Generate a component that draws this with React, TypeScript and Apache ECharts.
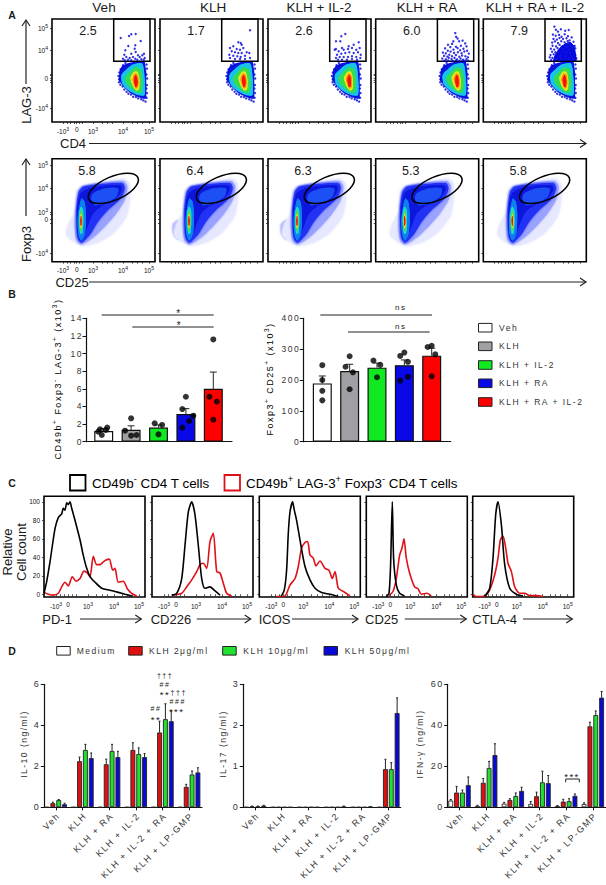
import React, { useEffect, useRef } from "react";
import * as echarts from "echarts";

const TRACK = 1.5;
const PLAIN = "Arial, 'Liberation Sans'";
const WIDE = "Helvetica, 'Liberation Sans'";

// ---------- A: flow cytometry ----------
const conditionsA = ["Veh", "KLH", "KLH + IL-2", "KLH + RA", "KLH + RA + IL-2"];
const lagPercent = ["2.5", "1.7", "2.6", "6.0", "7.9"];
const foxpPercent = ["5.8", "6.4", "6.3", "5.3", "5.8"];
const lagGate = [61.7, 60.7, 98, 103];
const foxpGate = [61.3, 73.3, 26.9, 11.7, 0.41];
const flowXTicks = [11, 15, 18, 22, 24.7, 27, 30, 41, 50, 55, 60, 71, 80, 85, 90, 97];
const flowXLabels = [11, 24.7, 41, 71, 97];
const flowXText = ["-10|3", "0", "10|3", "10|4", "10|5"];
const lagYTicks = [14, 40, 41.5, 44, 46.5, 48, 72, 94];
const lagYLabels = [14, 44, 72, 94];
const lagYText = ["-10|4", "0", "10|4", "10|5"];
const foxpYTicks = [8.5, 38, 42.5, 47, 49.5, 73.5, 96];
const foxpYLabels = [8.5, 42.5, 49.5, 73.5, 96];
const foxpYText = ["-10|4", "0", "10|3", "10|4", "10|5"];

const lagContourColors = ["#0a14e0", "#18c4e8", "#34dc50", "#e8e620", "#ff8a10", "#f01808"];
const lagContours = [
  [[67.7, 51.7], [70, 56], [74.3, 58.3], [84, 60.7], [92.7, 60.7], [94.3, 50], [94.3, 38], [94.3, 23.3], [90, 23.5], [86, 25], [77.7, 29.3], [71, 36], [66.7, 41.7]],
  [[69.5, 47], [74, 52], [80, 57], [90, 58.5], [92.5, 45], [92.5, 27], [86, 27], [77, 31.5], [70.5, 38]],
  [[73, 44], [78, 50], [83, 54.5], [88.5, 53], [90.5, 42], [89.5, 30], [85, 29.5], [79, 34], [75, 38]],
  [[78.5, 44], [82, 50], [85.5, 50], [87.5, 42], [87, 33], [84.5, 31.5], [81, 36]],
  [[80.5, 43], [83, 48.5], [85.5, 47], [86.5, 41], [86, 35], [84, 33.5], [82, 37.5]],
  [[82, 42.5], [83.5, 47], [85, 44.5], [85.5, 39], [84.8, 35.5], [83.5, 35], [82.5, 38.5]],
];
const lagShift = [0, 0, -2.5, -2.5, -2.5];
const lagFringe = [[66.4, 46], [67.2, 42.8], [67.3, 49.5], [67, 39.8], [68.4, 37.2], [70.6, 35.5], [72.3, 32.5], [74.6, 30.2], [76.4, 28.3], [79, 27.4], [81.2, 25.2], [84, 25], [86.2, 23.6], [89.2, 22.8], [91.4, 21.6], [93.6, 20.4], [94.6, 24.2], [95, 29], [94.4, 33.5], [94.9, 37], [95.2, 43.5], [94.5, 47.5], [95, 53.4], [94.6, 57.5], [68.6, 52.6], [71, 56.8], [73.4, 59]];
const lagCloudLast = [[70, 61], [72, 68], [78, 76], [86, 80], [91, 76], [93, 61]];

const foxpContourColors = ["#e6e8ff", "#9aa2ff", "#2030f4", "#0c14dc", "#1a50f4", "#1080f0", "#20d8d0", "#50e040", "#f0e020", "#f01808"];
const foxpContours = [
  [[24.3, 70], [29.3, 75], [71, 83.3], [77.7, 78.3], [77.7, 60], [74.3, 45], [61, 28.3], [46, 19.3], [31, 16], [22.7, 19.3], [14.3, 26.7], [16, 36.7], [22.7, 50]],
  [[26, 70], [31, 76], [71, 80.7], [75.3, 75], [72.7, 61.7], [64.3, 48.3], [52.7, 35], [41, 24], [29.3, 17.3], [24.3, 21.7], [22.7, 40]],
  [[26.7, 69.3], [32, 75.3], [70, 78.7], [72.7, 73.3], [68.7, 63.3], [56, 51.7], [46, 40], [37.7, 26.7], [29.3, 19], [25.3, 25], [24.3, 50]],
  [[28.7, 68.3], [39.3, 74], [67.7, 76.7], [70, 72.7], [64.3, 63.3], [51, 56.7], [41, 48.3], [34.3, 31.7], [29.3, 20.7], [26, 26.7], [25.3, 50]],
  [[41, 68.3], [52.7, 73.3], [66, 73.3], [64.3, 65], [52.7, 58.3], [42.7, 56.7], [39.3, 63.3]],
  [[29.3, 63], [32.5, 60], [34, 46.7], [33, 28.3], [29.3, 21], [26.5, 26.7], [25.7, 43.3]],
  [[29, 55], [31, 51.7], [31.3, 40], [30.3, 28.3], [28.3, 28.3], [27, 40], [27.3, 50]],
  [[29, 51.7], [30.3, 46.7], [30.3, 35], [29.3, 30.7], [28.3, 30.7], [27.7, 38.3], [28, 47.3]],
  [[29, 48.3], [30, 43.3], [29.7, 35], [28.7, 34], [28, 40]],
  [[29, 46], [29.7, 41.7], [29.3, 36], [28.7, 36], [28.3, 41.7]],
];
const foxpSideBlob = [[13, 38], [19, 42], [23, 40], [24, 24], [18, 22], [13, 28]];

const gateDots1 = [[68.7, 84], [77, 86], [79.3, 87.7], [83.7, 88], [88.7, 81], [83.3, 76.7], [76.3, 76], [73.3, 71.7], [82.7, 73.3], [72.3, 67.3], [79.3, 68.3], [83.7, 70], [86, 66.7], [71, 63.3], [74.3, 65], [77.7, 64], [81, 65], [83.3, 63.3], [87.7, 65], [90.3, 66.7], [92, 68.3], [92.7, 64], [89.3, 62.7], [72.7, 61.7], [76, 62.3], [79.3, 61.7], [85.3, 62.3], [91.7, 62.3]];
const gateDots2 = [[90, 91.7], [78.3, 79.7], [80.7, 79], [81.7, 77.3], [70, 74], [73.3, 75.7], [76.7, 73], [80, 72.3], [83.3, 74], [71.7, 70.7], [75, 69.7], [78.3, 69], [81.7, 69], [86.7, 69.7], [69.3, 67.3], [73.3, 66.3], [77.3, 65.7], [80.7, 65], [85, 66.3], [89.3, 69], [70, 64], [75, 63], [80, 63], [85, 63], [90, 64]];
const gateDots3 = [[77.3, 88], [73.3, 85.7], [68, 80.7], [72.3, 80.7], [68, 73], [74, 74], [80.7, 75.7], [85.7, 77.3], [90.7, 79.7], [66.7, 72.3], [70.7, 70.7], [75.7, 72.3], [80, 73], [84, 74], [88.3, 72.3], [91.7, 74], [69, 67.3], [73.3, 68.3], [77.3, 69], [81.3, 69.7], [85.7, 69], [90, 69.7], [92.7, 67.3], [68, 64], [71.7, 65], [75.7, 65], [80, 65], [84, 65.7], [88.3, 65], [92.3, 64], [70, 62.3], [74, 62.3], [79, 62.3], [84, 63], [89, 62.3]];
const gateDots4 = [[79.6, 88.9], [80.5, 85.1], [81.9, 83.4], [77.6, 80.6], [72.3, 77.2], [76.4, 78.1], [83.4, 80.7], [86.9, 81.4], [89.5, 78.6], [85.2, 76.3], [80.3, 75.2], [74.6, 74.9], [69.4, 73.6], [72.1, 71.3], [77.8, 72.4], [81.9, 73.9], [84.4, 71.7], [87.7, 73.2], [90.8, 75.6], [67.2, 69.4], [70.1, 68.6], [74.9, 70.4], [78.4, 69.1], [82.2, 69.8], [85.9, 68.7], [88.6, 70.5], [91.4, 71.2], [93.1, 68.4], [68.4, 66.1], [71.7, 65.4], [73.6, 67.2], [76.3, 65.8], [80.2, 66.9], [83.6, 65.2], [86.4, 66.4], [89.7, 65.7], [92.2, 64.8], [66.6, 63.4], [70.3, 62.8], [73.1, 64.2], [75.8, 62.9], [78.8, 64.1], [81.4, 62.6], [84.9, 63.4], [87.6, 62.3], [90.8, 62.9], [68.6, 61.2], [72.4, 61.4], [76.9, 61.1], [80.2, 61.5], [83.7, 61], [86.8, 61.3], [89.6, 61], [92.6, 61.4]];
const gateDots5 = [[71.1, 95.4], [72.6, 92.2], [74.7, 90.4], [77.6, 92.8], [81.9, 91.2], [85.4, 92], [69.6, 87.4], [72.4, 86.2], [75.8, 87.1], [78.3, 85.2], [81.4, 87.7], [84.6, 85.9], [70.2, 83.1], [73.6, 82.4], [76.2, 84], [79.7, 83], [83.2, 83.8], [86.3, 81.6], [88.4, 84.6], [68.9, 79.4], [71.6, 80.6], [74.7, 78.9], [77.9, 80.7], [81.3, 79.6], [84.4, 80.9], [87.2, 78.8], [90.2, 80.2], [69.3, 76.2], [72.8, 75.6], [76.3, 77.1], [79.4, 75.4], [82.6, 77.6], [85.6, 75.9], [88.4, 77.3], [91.3, 76.1], [67.6, 73.3], [70.9, 72.4], [74.2, 73.9], [77.4, 72.1], [80.6, 74.2], [83.4, 72.6], [86.7, 74.4], [89.2, 72.3], [92, 73.6], [68.8, 70.2], [72.1, 69.7], [75.4, 71], [78.6, 69.3], [81.2, 70.9], [84.8, 69.6], [87.4, 71.1], [90.6, 69.8], [67.2, 67], [70.4, 67.8], [73.9, 66.6], [76.2, 68.1], [79.9, 66.8], [82.4, 68], [85.3, 66.4], [88.9, 67.6], [92.1, 66.9], [66.4, 64.6], [69.2, 64.1], [72.3, 65.2], [75.1, 63.8], [78.9, 64.9], [81.3, 63.7], [84.2, 65.1], [87.8, 63.9], [90.9, 65], [93, 63.6], [67.9, 62], [71.6, 61.6], [75.8, 62.4], [79.4, 61.5], [83.6, 62.3], [87.4, 61.6], [91.6, 62.2]];
const gateDots = [gateDots1, gateDots2, gateDots3, gateDots4, gateDots5];

// ---------- B: bars with dots ----------
const groupsB = ["Veh", "KLH", "KLH + IL-2", "KLH + RA", "KLH + RA + IL-2"];
const colorsB = ["#ffffff", "#a0a0a4", "#10e820", "#0808e8", "#ff0000"];
const lagMeans = [1.2, 1.35, 1.6, 3.15, 6.0];
const lagHigh = [1.5, 1.8, 1.9, 3.75, 7.9];
const lagPoints = [[-0.135, 1.4], [-0.07, 0.76], [0.13, 1.6], [0.08, 1.33], [-0.2, 1.14], [1, 2.65], [0.78, 1.25], [1, 0.68], [1.2, 0.76], [1.86, 2.08], [2.13, 1.9], [2, 0.83], [3, 5.1], [2.87, 3.7], [3.27, 2.95], [3.12, 2.35], [2.87, 1.6], [4, 11.6], [3.86, 5.1], [4.13, 4.55], [4, 2.5]];
const foxpMeans = [189, 229, 240, 248, 279];
const foxpHigh = [213, 251, 255, 265, 303];
const foxpPoints = [[0, 248], [0, 200], [0, 165], [0, 134], [1, 277], [0.85, 243], [1.12, 225], [1, 170], [1.87, 263], [2.12, 249], [2, 209], [3, 289], [2.85, 278], [3.13, 259], [3.13, 210], [2.85, 198], [4, 311], [3.85, 307], [4.13, 283], [4, 212]];

// ---------- C: histograms ----------
const histXLabels = [12, 24, 44, 70, 95];
const histXText = ["-10|3", "0", "10|3", "10|4", "10|5"];
const histXTicks = [12, 16, 20, 24, 28, 32, 44, 52, 58, 63, 70, 78, 83, 88, 95];
const histYTicks = [0, 20, 40, 60, 80, 100];
const histNames = ["PD-1", "CD226", "ICOS", "CD25", "CTLA-4"];
const pd1Black = [[0, 1], [2.7, 14], [6, 35], [11, 71], [14.3, 83], [17.7, 87], [19.3, 93], [21, 91], [22.7, 99], [24.3, 97], [26, 100], [27.7, 93], [31, 80], [36, 59], [39.3, 42], [42.7, 28], [46, 19], [51, 13], [57.7, 6.5], [66, 4.3], [74.3, 2], [81, 0], [88, -2]];
const pd1Red = [[0, 2], [4.3, 0], [9.3, -1], [14.3, 1], [17.7, 8], [21, 13], [24.3, 9], [28.3, 19], [32, 14], [36, 17], [40, 25], [43.3, 23], [46, 19], [49.3, 41], [52.7, 32], [56, 32], [59.3, 35], [62, 37], [65.3, 38], [68.7, 26], [71, 28], [74.3, 13], [79.3, 14], [83.3, 6], [87.7, 1], [92.7, -2]];
const cd226Black = [[19.7, -1], [24.7, 1], [29.7, 17], [33, 53], [36.3, 89], [39.7, 100], [43, 86], [46.3, 53], [49.7, 17], [53, 6.5], [58, 8], [63, 3.6], [68, -1]];
const cd226Red = [[21, -1], [29.7, 1], [34.7, 8], [39.7, 15.5], [44.7, 24.5], [48, 32], [51.3, 33.5], [54.7, 28], [58, 57], [61.3, 66], [64.7, 24.5], [68, 23], [71.3, 12], [74.7, 1], [79.7, -2]];
const icosBlack = [[21.7, -2.5], [25, 4.7], [27.3, 26], [29, 66], [30.7, 89], [33.3, 100], [35, 91], [37.3, 80], [40.7, 58.6], [45.7, 30], [50.7, 15.5], [55.7, 6.5], [62.3, 1.8], [70.7, 0], [79, -2.5]];
const icosRed = [[17.3, -2.5], [25.7, -1.8], [30.7, 10], [35.7, 17], [39, 30], [42.3, 50], [45.7, 56], [48.3, 57], [50.7, 42.5], [54, 39], [56.7, 30.6], [60.7, 36], [65.7, 28], [69.7, 26], [73, 17], [75.7, 24.5], [79, 6.5], [84, 3], [90.7, -1.8]];
const cd25Black = [[20, -2.5], [22.7, 1], [24.3, 32], [26, 100], [27.3, 39], [30, 10], [33.3, 1], [38.3, -1.8]];
const cd25Red = [[22.7, -1.5], [26.7, 3], [30, 17], [33.3, 42], [35.7, 50], [37.7, 60], [40, 39], [43.3, 23], [48.3, 8], [51.7, 6], [55, 0], [60.7, 1], [65, -1.8]];
const ctlaBlack = [[12, -2.5], [17, 6.5], [20.3, 39], [23, 86], [25.3, 100], [28.7, 75], [32, 32], [37, 6.5], [43.7, 0], [50.3, -1.8]];
const ctlaRed = [[0.3, 0], [3.7, -2.5], [12, -1.8], [17, 4.7], [22, 21], [25.3, 39], [27.7, 59], [30.3, 63], [33, 50], [35.3, 33.5], [38.7, 24.5], [42, 8], [47, 1], [52, 1], [57, -1.5], [63.7, -1.5], [70.3, -2.5]];
const histBlack = [pd1Black, cd226Black, icosBlack, cd25Black, ctlaBlack];
const histRed = [pd1Red, cd226Red, icosRed, cd25Red, ctlaRed];

// ---------- D: cytokines ----------
const conditionsD = ["Veh", "KLH", "KLH + RA", "KLH + IL-2", "KLH + IL-2 + RA", "KLH + LP-GMP"];
const doseNames = ["Medium", "KLH 2μg/ml", "KLH 10μg/ml", "KLH 50μg/ml"];
const doseColors = ["#ffffff", "#e01010", "#20e030", "#0808d8"];
const il10Values = [
  [0, 0, 0, 0, 0, 0],
  [0.2, 2.25, 2.1, 2.8, 3.65, 1.0],
  [0.35, 2.8, 2.75, 2.6, 4.3, 1.6],
  [0.15, 2.4, 2.45, 2.45, 4.2, 1.7],
];
const il10High = [
  [0, 0, 0, 0, 0, 0],
  [0.25, 2.45, 2.35, 3.15, 4.2, 1.12],
  [0.38, 3.07, 3.07, 2.9, 5.05, 1.77],
  [0.2, 2.65, 2.73, 2.62, 4.7, 1.93],
];
const il17Values = [
  [0, 0, 0, 0, 0, 0],
  [0.02, 0, 0, 0, 0, 0.93],
  [0.02, 0, 0, 0, 0, 0.93],
  [0.04, 0, 0, 0.02, 0.01, 2.3],
];
const il17High = [
  [0, 0, 0, 0, 0, 0],
  [0.03, 0, 0, 0, 0, 1.17],
  [0.03, 0, 0, 0, 0, 1.09],
  [0.05, 0, 0, 0.03, 0.02, 2.67],
];
const ifnValues = [
  [3.3, 0.7, 1.8, 1.7, 0.6, 1.6],
  [7.2, 12, 3.6, 5.4, 2.8, 39.5],
  [7.2, 19.2, 5.5, 12.2, 3, 45],
  [10.8, 25.5, 8, 11.8, 5.6, 53.5],
];
const ifnHigh = [
  [3.8, 1, 2.4, 2.8, 0.9, 2.2],
  [10.2, 14, 4.2, 7.4, 3.9, 41.5],
  [8.4, 22.4, 7, 17.6, 4.2, 47],
  [14.8, 31, 9.8, 15.5, 6.5, 56.5],
];

function measure(text: string, size: number) {
  const c = document.createElement("canvas").getContext("2d");
  if (!c) return text.length * size * 0.55;
  c.font = size + "px 'Liberation Sans'";
  return c.measureText(text).width;
}

// rich text out of plain pieces and superscripts, each with room for the tracking
function wideRich(parts: [string, boolean][], size: number) {
  const rich: any = {};
  let text = "";
  parts.forEach(([t, sup], i) => {
    const s = sup ? size * 0.72 : size;
    rich["p" + i] = {
      fontFamily: WIDE,
      fontSize: s,
      color: "#333",
      width: measure(t, s) + t.length * TRACK,
      align: "left",
      padding: sup ? [0, 0, size * 0.7, 0] : 0,
    };
    text += "{p" + i + "|" + t + "}";
  });
  return { text, rich };
}

const supRich = {
  b: { fontSize: 6.5, fontFamily: PLAIN, color: "#111" },
  s: { fontSize: 5, fontFamily: PLAIN, color: "#111", padding: [0, 0, 5, 0] },
};
function tickText(values: number[], texts: string[]) {
  return (v: number) => {
    const i = values.findIndex((p) => Math.abs(p - v) < 0.01);
    if (i < 0) return "";
    const [base, sup] = texts[i].split("|");
    return sup ? "{b|" + base + "}{s|" + sup + "}" : "{b|" + base + "}";
  };
}

function buildOption() {
  const grid: any[] = [];
  const xAxis: any[] = [];
  const yAxis: any[] = [];
  const series: any[] = [];
  const g: any[] = [];

  const addGrid = (l: number, t: number, w: number, h: number, box: boolean, x: any, y: any) => {
    const i = grid.length;
    grid.push({
      left: l,
      top: t,
      width: w,
      height: h,
      show: box,
      borderColor: "#000",
      borderWidth: box ? 1.6 : 0,
      backgroundColor: "transparent",
    });
    xAxis.push({ gridIndex: i, type: "value", splitLine: { show: false }, ...x });
    yAxis.push({ gridIndex: i, type: "value", splitLine: { show: false }, ...y });
    return i;
  };

  const text = (t: string, x: number, y: number, size: number, o: any = {}) =>
    g.push({
      type: "text",
      x,
      y,
      rotation: o.rotation || 0,
      silent: true,
      style: {
        text: t,
        fontSize: size,
        fontFamily: o.wide ? WIDE : PLAIN,
        fontWeight: o.bold ? "bold" : "normal",
        fill: o.color || "#1a1a1a",
        align: o.align || "center",
        verticalAlign: "middle",
      },
    });
  const richText = (parts: [string, boolean][], x: number, y: number, size: number, rotation: number, plain?: boolean) => {
    if (plain) {
      const rich: any = {};
      let s = "";
      parts.forEach(([t, sup], i) => {
        rich["p" + i] = {
          fontFamily: PLAIN,
          fontSize: sup ? size * 0.7 : size,
          color: "#1a1a1a",
          padding: sup ? [0, 0, size * 0.55, 0] : 0,
        };
        s += "{p" + i + "|" + t + "}";
      });
      g.push({ type: "text", x, y, rotation, silent: true, style: { text: s, rich, align: "left", verticalAlign: "middle" } });
      return;
    }
    const r = wideRich(parts, size);
    g.push({ type: "text", x, y, rotation, silent: true, style: { text: r.text, rich: r.rich, align: "center", verticalAlign: "middle" } });
  };
  const line = (x1: number, y1: number, x2: number, y2: number, w = 1, color = "#222") =>
    g.push({ type: "line", silent: true, shape: { x1, y1, x2, y2 }, style: { stroke: color, lineWidth: w } });
  const arrowRight = (x1: number, x2: number, y: number) => {
    line(x1, y, x2, y, 1.2);
    g.push({ type: "polyline", silent: true, shape: { points: [[x2 - 6, y - 4], [x2, y], [x2 - 6, y + 4]] }, style: { stroke: "#222", lineWidth: 1.2, fill: "none" } });
  };
  const arrowUp = (x: number, y1: number, y2: number) => {
    line(x, y1, x, y2, 1.2);
    g.push({ type: "polyline", silent: true, shape: { points: [[x - 4, y2 + 6], [x, y2], [x + 4, y2 + 6]] }, style: { stroke: "#222", lineWidth: 1.2, fill: "none" } });
  };

  const polygonSeries = (i: number, pts: number[][], color: string, blur: number, dx = 0, smooth = 0.25) => ({
    type: "custom",
    xAxisIndex: i,
    yAxisIndex: i,
    silent: true,
    data: pts.map((p) => [p[0] + dx, p[1]]),
    encode: { x: 0, y: 1 },
    renderItem: (params: any, api: any) => {
      if (params.dataIndex !== 0) return null;
      return {
        type: "polygon",
        shape: { points: pts.map((p) => api.coord([p[0] + dx, p[1]])), smooth },
        style: { fill: color, shadowBlur: blur, shadowColor: color },
      };
    },
  });

  const flowX = (labels: boolean) => ({
    min: 0,
    max: 103,
    axisLine: { show: false },
    axisTick: { show: true, customValues: flowXTicks, length: 2, lineStyle: { color: "#111", width: 0.7 } },
    axisLabel: labels
      ? { show: true, customValues: flowXLabels, formatter: tickText(flowXLabels, flowXText), rich: supRich, margin: 4, color: "#111" }
      : { show: false },
  });
  const flowY = (labels: boolean, ticks: number[], lv: number[], lt: string[]) => ({
    min: 0,
    max: 103,
    axisLine: { show: false, onZero: false },
    axisTick: { show: true, customValues: ticks, length: 2, lineStyle: { color: "#111", width: 0.7 } },
    axisLabel: labels
      ? { show: true, customValues: lv, formatter: tickText(lv, lt), rich: supRich, margin: 4, color: "#111" }
      : { show: false },
  });

  // ----- Panel A
  const lefts = [52, 160, 268, 375.7, 483.3];
  const titleX = [104, 213, 319, 427, 535];
  lefts.forEach((l, p) => {
    const i = addGrid(l, 19, 103, 103, true, flowX(p === 0), flowY(p === 0, lagYTicks, lagYLabels, lagYText));
    if (p === 4) series.push(polygonSeries(i, lagCloudLast, "#0a14e0", 0.8, 0, 0.1));
    lagContours.forEach((c, k) => series.push(polygonSeries(i, c, lagContourColors[k], k === 0 ? 0 : 1, lagShift[p], k === 0 ? 0.05 : 0.25)));
    series.push({
      type: "scatter",
      xAxisIndex: i,
      yAxisIndex: i,
      symbolSize: 2.4,
      silent: true,
      itemStyle: { color: "#0000e0" },
      data: gateDots[p].concat(lagFringe.map((d) => [d[0] + lagShift[p], d[1]])),
    });
    series.push({
      type: "custom",
      xAxisIndex: i,
      yAxisIndex: i,
      silent: true,
      data: [lagGate],
      encode: { x: [0, 2], y: [1, 3] },
      renderItem: (_: any, api: any) => {
        const a = api.coord([api.value(0), api.value(1)]);
        const b = api.coord([api.value(2), api.value(3)]);
        return {
          type: "rect",
          shape: { x: a[0], y: b[1], width: b[0] - a[0], height: a[1] - b[1] },
          style: { fill: "none", stroke: "#000", lineWidth: 1.5 },
        };
      },
    });
    text(conditionsA[p], titleX[p], 7, 13.5);
    text(lagPercent[p], l + 36, 31, 12.5);
    const j = addGrid(l, 158.7, 103, 103, true, flowX(p === 0), flowY(p === 0, foxpYTicks, foxpYLabels, foxpYText));
    if (p === 1 || p === 2) series.push(polygonSeries(j, foxpSideBlob, "#b8bcff", 2.5));
    foxpContours.forEach((c, k) => series.push(polygonSeries(j, c, foxpContourColors[k], k === 0 ? 3 : k < 3 ? 2 : 1.5)));
    series.push({
      type: "custom",
      xAxisIndex: j,
      yAxisIndex: j,
      silent: true,
      data: [foxpGate],
      encode: { x: 0, y: 1 },
      renderItem: (_: any, api: any) => {
        const c = api.coord([api.value(0), api.value(1)]);
        const size = api.size([api.value(2), api.value(3)]);
        return {
          type: "ellipse",
          x: c[0],
          y: c[1],
          rotation: api.value(4),
          shape: { cx: 0, cy: 0, rx: size[0], ry: size[1] },
          style: { fill: "none", stroke: "#000", lineWidth: 1.5 },
        };
      },
    });
    text(foxpPercent[p], l + 35, 170.7, 12.5);
  });
  text("A", 12, 15, 10.5, { bold: true });
  arrowUp(26, 84, 20);
  text("LAG-3", 26, 105, 13, { rotation: Math.PI / 2 });
  text("CD4", 73, 143.5, 13);
  arrowRight(89, 586, 143.5);
  arrowUp(26, 216, 159);
  text("Foxp3", 26, 244, 13, { rotation: Math.PI / 2 });
  text("CD25", 72, 282, 13);
  arrowRight(89, 586, 282);

  // ----- Panel B
  const errorBar = (cap: number, w: number) => (_: any, api: any) => {
    const a = api.coord([api.value(0), api.value(1)]);
    const b = api.coord([api.value(0), api.value(2)]);
    return {
      type: "group",
      children: [
        { type: "line", shape: { x1: a[0], y1: a[1], x2: b[0], y2: b[1] }, style: { stroke: "#222", lineWidth: w } },
        { type: "line", shape: { x1: b[0] - cap, y1: b[1], x2: b[0] + cap, y2: b[1] }, style: { stroke: "#222", lineWidth: w } },
      ],
    };
  };
  const barB = (left: number, right: number, c0: number, pitchB: number, maxV: number, step: number, means: number[], high: number[], pts: number[][]) => {
    const i = addGrid(
      left,
      318.3,
      right - left,
      123.4,
      false,
      {
        min: (left - c0) / pitchB,
        max: (right - c0) / pitchB,
        axisLine: { show: true, onZero: false, lineStyle: { color: "#111", width: 1.2 } },
        axisTick: { show: false },
        axisLabel: { show: false },
      },
      {
        min: 0,
        max: maxV,
        interval: step,
        axisLine: { show: true, onZero: false, lineStyle: { color: "#111", width: 1.2 } },
        axisTick: { show: true, length: 3.5, lineStyle: { color: "#111", width: 1 } },
        axisLabel: { fontFamily: WIDE, fontSize: 8.5, color: "#333", margin: 3 },
      }
    );
    series.push({
      type: "custom",
      xAxisIndex: i,
      yAxisIndex: i,
      silent: true,
      data: means.map((m, k) => [k, m, high[k]]),
      encode: { x: 0, y: [1, 2] },
      z: 2,
      renderItem: errorBar(3.5, 1),
    });
    series.push({
      type: "bar",
      xAxisIndex: i,
      yAxisIndex: i,
      barWidth: 19,
      silent: true,
      z: 3,
      data: means.map((m, k) => ({ value: [k, m], itemStyle: { color: colorsB[k], borderColor: "#111", borderWidth: 1.2 } })),
    });
    series.push({
      type: "scatter",
      xAxisIndex: i,
      yAxisIndex: i,
      silent: true,
      symbolSize: 6,
      z: 4,
      itemStyle: { color: "#000" },
      data: pts,
    });
  };
  barB(86, 232, 103.7, 27.4, 14, 2, lagMeans, lagHigh, lagPoints);
  barB(303.3, 450.7, 322.3, 27.35, 400, 100, foxpMeans, foxpHigh, foxpPoints);
  text("B", 12, 294, 10.5, { bold: true });
  richText([["CD49b", false], ["+", true], [" Foxp3", false], ["-", true], [" LAG-3", false], ["+", true], [" (x10", false], ["3", true], [")", false]], 58, 379, 9, Math.PI / 2);
  richText([["Foxp3", false], ["+", true], [" CD25", false], ["+", true], [" (x10", false], ["3", true], [")", false]], 270, 379, 9, Math.PI / 2);
  line(101.7, 315, 213.7, 315);
  line(132.3, 327, 213.7, 327);
  text("*", 178.3, 313.5, 10);
  text("*", 178.7, 325.5, 10);
  line(320.3, 315, 432, 315);
  line(348, 332, 429.7, 332);
  text("ns", 400.7, 307.5, 8, { wide: true });
  text("ns", 400.7, 326, 8, { wide: true });
  groupsB.forEach((n, k) => {
    const y = [327.7, 346.3, 365, 383.3, 402][k];
    g.push({ type: "rect", silent: true, shape: { x: 478.5, y: y - 4.3, width: 13.5, height: 8.6 }, style: { fill: colorsB[k], stroke: "#222", lineWidth: 1 } });
    text(n, 499, y, 8.5, { wide: true, align: "left", color: "#333" });
  });

  // ----- Panel C
  const histLefts = [44, 152, 259.3, 366.3, 472.7];
  const nameX = [42.3, 150.7, 258.7, 365, 472.3];
  const arrowsC = [[80, 141.3], [196.7, 250.7], [292, 358], [404.7, 466.3], [523, 572.3]];
  histLefts.forEach((l, p) => {
    const i = addGrid(
      l,
      496.3,
      101,
      100.7,
      true,
      {
        min: 0,
        max: 101,
        axisLine: { show: false },
        axisTick: { show: true, customValues: histXTicks, length: 2, lineStyle: { color: "#111", width: 0.7 } },
        axisLabel: { show: true, customValues: histXLabels, formatter: tickText(histXLabels, histXText), rich: supRich, margin: 4, color: "#111" },
      },
      {
        min: -3,
        max: 106,
        axisLine: { show: false, onZero: false },
        axisTick: { show: true, customValues: histYTicks, length: 2, lineStyle: { color: "#111", width: 0.7 } },
        axisLabel:
          p === 0
            ? { show: true, customValues: histYTicks, fontSize: 6.5, fontFamily: PLAIN, color: "#111", margin: 4 }
            : { show: false },
      }
    );
    series.push({ type: "line", xAxisIndex: i, yAxisIndex: i, silent: true, symbol: "none", smooth: 0.25, lineStyle: { color: "#e01018", width: 1.6 }, data: histRed[p] });
    series.push({ type: "line", xAxisIndex: i, yAxisIndex: i, silent: true, symbol: "none", smooth: 0.25, lineStyle: { color: "#000", width: 1.6 }, data: histBlack[p] });
    text(histNames[p], nameX[p], 619, 13, { align: "left" });
    arrowRight(arrowsC[p][0], arrowsC[p][1], 619);
  });
  text("C", 12, 483, 10.5, { bold: true });
  g.push({ type: "rect", silent: true, shape: { x: 70, y: 475, width: 15.5, height: 15.5 }, style: { fill: "#fff", stroke: "#000", lineWidth: 1.8 } });
  g.push({ type: "rect", silent: true, shape: { x: 224.5, y: 475, width: 15.5, height: 15.5 }, style: { fill: "#fff", stroke: "#e01018", lineWidth: 1.8 } });
  richText([["CD49b", false], ["-", true], [" CD4 T cells", false]], 92, 483, 13.4, 0, true);
  richText([["CD49b", false], ["+", true], [" LAG-3", false], ["+", true], [" Foxp3", false], ["-", true], [" CD4 T cells", false]], 246, 483, 13.4, 0, true);
  text("Relative", 7.5, 552, 13, { rotation: Math.PI / 2 });
  text("Cell count", 21.7, 552, 13, { rotation: Math.PI / 2 });

  // ----- Panel D
  const pitch = 26.67;
  const barPitch = 0.219;
  const labelNudge = 0.1;
  const barD = (left: number, right: number, c0: number, maxV: number, step: number, values: number[][], high: number[][]) => {
    const i = addGrid(
      left,
      684.3,
      right - left,
      123,
      false,
      {
        min: (left - c0) / pitch,
        max: (right - c0) / pitch,
        axisLine: { show: true, onZero: false, lineStyle: { color: "#111", width: 1.2 } },
        axisTick: { show: true, customValues: [0, 1, 2, 3, 4, 5], length: 3, lineStyle: { color: "#111", width: 1 } },
        axisLabel: {
          show: true,
          customValues: [0, 1, 2, 3, 4, 5].map((v) => v + labelNudge),
          rotate: 45,
          fontFamily: WIDE,
          fontSize: 9,
          color: "#333",
          margin: 7,
          formatter: (v: number) => conditionsD[Math.floor(v)],
        },
      },
      {
        min: 0,
        max: maxV,
        interval: step,
        axisLine: { show: true, onZero: false, lineStyle: { color: "#111", width: 1.2 } },
        axisTick: { show: true, length: 3.5, lineStyle: { color: "#111", width: 1 } },
        axisLabel: { fontFamily: WIDE, fontSize: 9, color: "#333", margin: 4 },
      }
    );
    values.forEach((vals, s) => {
      const off = (s - 1.5) * barPitch;
      series.push({
        type: "custom",
        xAxisIndex: i,
        yAxisIndex: i,
        silent: true,
        z: 2,
        data: vals.map((v, k) => [k + off, v, high[s][k]]),
        encode: { x: 0, y: [1, 2] },
        renderItem: errorBar(1, 1),
      });
      series.push({
        type: "bar",
        xAxisIndex: i,
        yAxisIndex: i,
        silent: true,
        barWidth: 4.9,
        barGap: "-100%",
        z: 3,
        itemStyle: { color: doseColors[s], borderColor: "#222", borderWidth: 0.9 },
        data: vals.map((v, k) => [k + off, v]),
      });
    });
  };
  barD(44.3, 202, 55.8, 6, 2, il10Values, il10High);
  barD(243.3, 400.7, 255, 3, 1, il17Values, il17High);
  barD(447.7, 605.7, 459.5, 60, 20, ifnValues, ifnHigh);
  text("D", 12, 651, 10.5, { bold: true });
  text("IL-10 (ng/ml)", 24, 744, 8.5, { wide: true, rotation: Math.PI / 2, color: "#333" });
  text("IL-17 (ng/ml)", 222.7, 744, 8.5, { wide: true, rotation: Math.PI / 2, color: "#333" });
  text("IFN-γ (ng/ml)", 420, 744, 8.5, { wide: true, rotation: Math.PI / 2, color: "#333" });
  const legendX = [[56.7, 76.7], [128.7, 149], [222.7, 243.3], [324, 344.7]];
  doseNames.forEach((n, k) => {
    g.push({ type: "rect", silent: true, shape: { x: legendX[k][0], y: 646.5, width: 13.5, height: 8.6 }, style: { fill: doseColors[k], stroke: "#222", lineWidth: 1 } });
    text(n, legendX[k][1], 651, 8.5, { wide: true, align: "left", color: "#333" });
  });
  const statMarks: [string, number, number, number][] = [["†††", 165, 675, 7], ["##", 165, 684.3, 7], ["**", 165, 694, 9.5], ["†††", 178.7, 692, 7], ["###", 177.7, 701, 7], ["***", 176.7, 711, 9.5], ["##", 156, 708.7, 7], ["**", 156, 719, 9.5]];
  statMarks.forEach(([t, x, y, s]) => text(t, x, y, s, { wide: true }));
  g.push({ type: "polyline", silent: true, shape: { points: [[565.7, 782.3], [565.7, 779], [579.3, 779], [579.3, 782.3]] }, style: { stroke: "#222", lineWidth: 1, fill: "none" } });
  text("***", 572, 776, 9.5, { wide: true });

  return { animation: false, backgroundColor: "#fff", grid, xAxis, yAxis, series, graphic: { elements: g } };
}

export default function App() {
  const ref = useRef<HTMLDivElement>(null);
  useEffect(() => {
    const chart = echarts.init(ref.current as HTMLDivElement, null, { renderer: "svg" });
    chart.setOption(buildOption() as any);
    return () => chart.dispose();
  }, []);
  return (
    <>
      <style>{`body{margin:0} text[style*="Helvetica"]{letter-spacing:${TRACK}px}`}</style>
      <div ref={ref} style={{ position: "absolute", left: 0, top: 0, width: 606, height: 885 }} />
    </>
  );
}
